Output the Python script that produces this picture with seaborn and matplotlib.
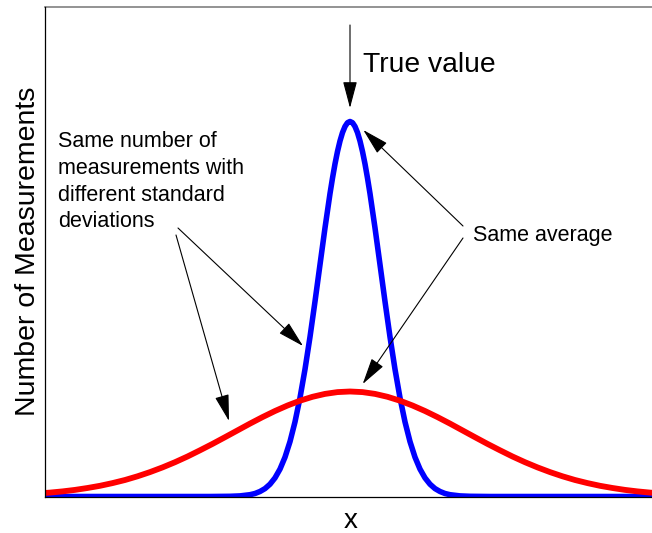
import matplotlib
matplotlib.use("Agg")
import matplotlib.pyplot as plt
import seaborn as sns
import pandas as pd

# Curve values (x in arbitrary units, mean at 0)
blue_x = [-3.1, -1.4, -1.2, -1.1, -1.0, -0.95, -0.9, -0.85, -0.8, -0.75, -0.7, -0.65,
          -0.6, -0.55, -0.5, -0.45, -0.4, -0.35, -0.3, -0.25, -0.2, -0.175, -0.15,
          -0.125, -0.1, -0.075, -0.05, -0.025, 0.0, 0.025, 0.05, 0.075, 0.1, 0.125,
          0.15, 0.175, 0.2, 0.25, 0.3, 0.35, 0.4, 0.45, 0.5, 0.55, 0.6, 0.65, 0.7,
          0.75, 0.8, 0.85, 0.9, 0.95, 1.0, 1.1, 1.2, 1.4, 3.3]
blue_y = [0.0, 0.0, 0.002, 0.006, 0.018, 0.030, 0.050, 0.079, 0.123, 0.186, 0.274, 0.393,
          0.549, 0.746, 0.987, 1.272, 1.596, 1.950, 2.319, 2.686, 3.029, 3.184, 3.326,
          3.450, 3.555, 3.639, 3.700, 3.738, 3.750, 3.738, 3.700, 3.639, 3.555, 3.450,
          3.326, 3.184, 3.029, 2.686, 2.319, 1.950, 1.596, 1.272, 0.987, 0.746, 0.549,
          0.393, 0.274, 0.186, 0.123, 0.079, 0.050, 0.030, 0.018, 0.006, 0.002, 0.0, 0.0]

red_x = [-3.25, -3.125, -3.0, -2.875, -2.75, -2.625, -2.5, -2.375, -2.25, -2.125, -2.0,
         -1.875, -1.75, -1.625, -1.5, -1.375, -1.25, -1.125, -1.0, -0.875, -0.75, -0.625,
         -0.5, -0.375, -0.25, -0.125, 0.0, 0.125, 0.25, 0.375, 0.5, 0.625, 0.75, 0.875,
         1.0, 1.125, 1.25, 1.375, 1.5, 1.625, 1.75, 1.875, 2.0, 2.125, 2.25, 2.375, 2.5,
         2.625, 2.75, 2.875, 3.0, 3.125, 3.25, 3.5]
red_y = [0.022, 0.030, 0.039, 0.051, 0.066, 0.085, 0.107, 0.134, 0.165, 0.202, 0.244,
         0.291, 0.343, 0.400, 0.462, 0.526, 0.593, 0.661, 0.729, 0.794, 0.855, 0.910,
         0.958, 0.997, 1.026, 1.044, 1.050, 1.044, 1.026, 0.997, 0.958, 0.910, 0.855, 0.794,
         0.729, 0.661, 0.593, 0.526, 0.462, 0.400, 0.343, 0.291, 0.244, 0.202, 0.165, 0.134,
         0.107, 0.085, 0.066, 0.051, 0.039, 0.030, 0.022, 0.012]

df_blue = pd.DataFrame({"x": blue_x, "y": blue_y})
df_red = pd.DataFrame({"x": red_x, "y": red_y})

sns.set_style("white")
plt.rcParams["font.family"] = ["Liberation Sans", "DejaVu Sans"]
plt.rcParams["text.color"] = "black"
plt.rcParams["axes.labelcolor"] = "black"

fig = plt.figure(figsize=(6.52, 5.33), dpi=100)
ax = fig.add_axes([45 / 652, 36.5 / 533, 611 / 652, 489.5 / 533])

sns.lineplot(data=df_blue, x="x", y="y", color="#0000ff", linewidth=4.0, ax=ax, zorder=2)
sns.lineplot(data=df_red, x="x", y="y", color="#ff0000", linewidth=4.2, ax=ax, zorder=3)

ax.set_xlim(-3.05, 3.06)
ax.set_ylim(0, 4.895)
ax.set_xticks([])
ax.set_yticks([])
ax.set_xlabel("x", fontsize=20, labelpad=8)
ax.set_ylabel("Number of Measurements", fontsize=20.5, labelpad=3)

for side in ["left", "bottom"]:
    ax.spines[side].set_color("black")
    ax.spines[side].set_linewidth(0.9)
    ax.spines[side].set_zorder(4)
ax.spines["top"].set_color("#808080")
ax.spines["top"].set_linewidth(1.2)
ax.spines["right"].set_visible(False)

arrow = dict(arrowstyle="-|>,head_length=0.83,head_width=0.22", color="black",
             lw=0.8, mutation_scale=20, shrinkA=0, shrinkB=0)

ax.annotate("", xy=(0.0, 3.885), xytext=(0.0, 4.715), arrowprops=arrow)
ax.text(0.13, 4.315, "True value", fontsize=20.3, va="center", ha="left")

ax.text(-2.92, 3.655, "Same number of\nmeasurements with\ndifferent standard\ndeviations",
        fontsize=15.5, va="top", ha="left", linespacing=1.36)
ax.annotate("", xy=(-0.47, 1.505), xytext=(-1.72, 2.685), arrowprops=arrow)
ax.annotate("", xy=(-1.21, 0.755), xytext=(-1.74, 2.615), arrowprops=arrow)

ax.text(1.23, 2.605, "Same average", fontsize=15.5, va="center", ha="left")
ax.annotate("", xy=(0.133, 3.665), xytext=(1.13, 2.705), arrowprops=arrow)
ax.annotate("", xy=(0.127, 1.125), xytext=(1.13, 2.585), arrowprops=arrow)

fig.savefig("out.png", dpi=100)
